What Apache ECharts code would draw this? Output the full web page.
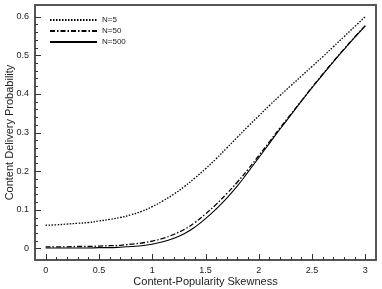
<!DOCTYPE html>
<html><head><meta charset="utf-8">
<script src="https://cdn.jsdelivr.net/npm/echarts@6/dist/echarts.min.js"></script>
<style>html,body{margin:0;padding:0;background:#fff}#c{width:382px;height:289px}</style>
</head><body><div id="c"></div>
<script>
var skew = [0,0.1,0.2,0.3,0.4,0.5,0.6,0.7,0.8,0.9,1.0,1.1,1.2,1.3,1.4,1.5,1.6,1.7,1.8,1.9,2.0,2.1,2.2,2.3,2.4,2.5,2.6,2.7,2.8,2.9,3.0];
var n5 = [0.060,0.061,0.063,0.065,0.067,0.071,0.075,0.080,0.087,0.096,0.108,0.123,0.140,0.160,0.182,0.206,0.232,0.260,0.288,0.316,0.343,0.370,0.396,0.421,0.446,0.471,0.496,0.522,0.548,0.574,0.600];
var n50 = [0.004,0.004,0.004,0.005,0.005,0.006,0.007,0.008,0.011,0.014,0.019,0.026,0.036,0.049,0.067,0.089,0.114,0.142,0.172,0.205,0.240,0.276,0.312,0.347,0.382,0.417,0.451,0.484,0.516,0.547,0.577];
var n500 = [0.001,0.001,0.001,0.001,0.001,0.002,0.002,0.003,0.005,0.007,0.011,0.017,0.026,0.038,0.055,0.077,0.102,0.130,0.162,0.198,0.235,0.272,0.309,0.345,0.381,0.416,0.450,0.483,0.515,0.546,0.576];
var seriesNames = ['N=5','N=50','N=500'];
var xMajor = [0,0.5,1,1.5,2,2.5,3];
var yMajor = [0,0.1,0.2,0.3,0.4,0.5,0.6];
var xMinor = [0.1,0.2,0.3,0.4,0.6,0.7,0.8,0.9,1.1,1.2,1.3,1.4,1.6,1.7,1.8,1.9,2.1,2.2,2.3,2.4,2.6,2.7,2.8,2.9];
var yMinor = [0.02,0.04,0.06,0.08,0.12,0.14,0.16,0.18,0.22,0.24,0.26,0.28,0.32,0.34,0.36,0.38,0.42,0.44,0.46,0.48,0.52,0.54,0.56,0.58];
var xRange = [-0.1, 3.1];
var yRange = [-0.03, 0.63];

function zip(xs, ys){ return xs.map(function(x,i){ return [x, ys[i]]; }); }
var font = 'Liberation Sans, Arial, sans-serif';
var chart = echarts.init(document.getElementById('c'), null, {renderer:'canvas'});
var frameLine = {show:true, onZero:false, lineStyle:{color:'#555', width:2}};

chart.setOption({
  animation:false,
  backgroundColor:'#fff',
  grid:{left:35, right:6, top:5, bottom:29, outerBoundsMode:'none', containLabel:false, show:false},
  legend:{
    left:44, top:11, orient:'vertical', itemWidth:47, itemHeight:8, itemGap:3,
    itemStyle:{color:'transparent', borderWidth:0, opacity:0},
    textStyle:{fontFamily:font, fontSize:8, color:'#222', padding:[0,0,0,0]},
    data:seriesNames
  },
  xAxis:[{
    type:'value', min:xRange[0], max:xRange[1], position:'bottom',
    name:'Content-Popularity Skewness', nameLocation:'middle', nameGap:16, nameMoveOverlap:false,
    nameTextStyle:{fontFamily:font, fontSize:11, color:'#222'},
    axisLine:frameLine, splitLine:{show:false}, axisTick:{show:false},
    axisLabel:{fontFamily:font, fontSize:9, color:'#222', margin:6, customValues:xMajor}
  },{
    type:'value', min:xRange[0], max:xRange[1], position:'top',
    axisLine:frameLine, splitLine:{show:false}, axisLabel:{show:false}, axisTick:{show:false}
  }],
  yAxis:[{
    type:'value', min:yRange[0], max:yRange[1], position:'left',
    name:'Content Delivery Probability', nameLocation:'middle', nameGap:20, nameMoveOverlap:false,
    nameTextStyle:{fontFamily:font, fontSize:11, color:'#222'},
    axisLine:frameLine, splitLine:{show:false}, axisTick:{show:false},
    axisLabel:{fontFamily:font, fontSize:9, color:'#222', margin:6, customValues:yMajor}
  },{
    type:'value', min:yRange[0], max:yRange[1], position:'right',
    axisLine:frameLine, splitLine:{show:false}, axisLabel:{show:false}, axisTick:{show:false}
  }],
  series:[
    {name:seriesNames[0], type:'line', showSymbol:false, symbol:'none', smooth:true, data:zip(skew,n5),
     lineStyle:{color:'#000', width:1.3, type:[1.5,1.5]}, itemStyle:{color:'#000'}},
    {name:seriesNames[1], type:'line', showSymbol:false, symbol:'none', smooth:true, data:zip(skew,n50),
     lineStyle:{color:'#000', width:1.3, type:[5,2,1.5,2]}, itemStyle:{color:'#000'}},
    {name:seriesNames[2], type:'line', showSymbol:false, symbol:'none', smooth:true, data:zip(skew,n500),
     lineStyle:{color:'#000', width:1.1, type:'solid'}, itemStyle:{color:'#000'}}
  ]
});

// Tick marks placed through the library's own axis scales (convertToPixel)
var tickEls = [];
var bottomPx = chart.convertToPixel({yAxisIndex:0}, yRange[0]);
var leftPx = chart.convertToPixel({xAxisIndex:0}, xRange[0]);
function addX(values, len){
  values.forEach(function(v){
    var px = Math.round(chart.convertToPixel({xAxisIndex:0}, v)) + 0.5;
    tickEls.push({type:'line', z:100, silent:true,
      shape:{x1:px, y1:bottomPx, x2:px, y2:bottomPx - len},
      style:{stroke:'#333', lineWidth:1}});
  });
}
function addY(values, len){
  values.forEach(function(v){
    var py = Math.round(chart.convertToPixel({yAxisIndex:0}, v)) + 0.5;
    tickEls.push({type:'line', z:100, silent:true,
      shape:{x1:leftPx, y1:py, x2:leftPx + len, y2:py},
      style:{stroke:'#333', lineWidth:1}});
  });
}
addX(xMajor, 6); addX(xMinor, 3);
addY(yMajor, 6); addY(yMinor, 3);
chart.setOption({graphic:{elements:tickEls}});
</script></body></html>
